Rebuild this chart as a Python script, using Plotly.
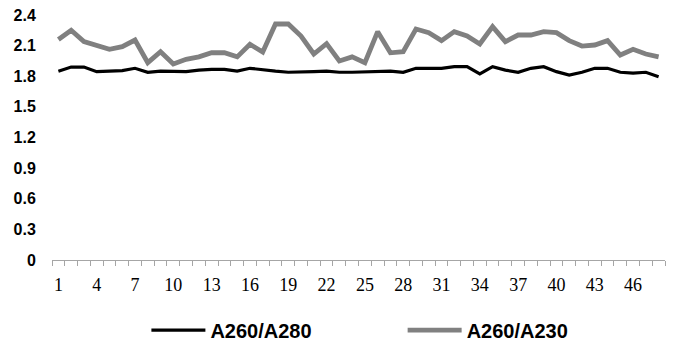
import plotly.graph_objects as go

samples = list(range(1, 49))
a260_280 = [1.85, 1.89, 1.89, 1.845, 1.85, 1.855, 1.878, 1.839, 1.85, 1.85,
            1.845, 1.86, 1.868, 1.868, 1.85, 1.878, 1.86, 1.85, 1.839, 1.839,
            1.845, 1.85, 1.839, 1.839, 1.845, 1.85, 1.85, 1.839, 1.878, 1.878,
            1.878, 1.894, 1.894, 1.822, 1.894, 1.86, 1.839, 1.878, 1.894, 1.845,
            1.812, 1.839, 1.878, 1.878, 1.839, 1.83, 1.839, 1.796]
a260_230 = [2.16, 2.25, 2.14, 2.096, 2.064, 2.09, 2.155, 1.933, 2.04, 1.92,
            1.966, 1.99, 2.03, 2.03, 1.99, 2.113, 2.037, 2.312, 2.312, 2.194,
            2.018, 2.12, 1.95, 1.99, 1.933, 2.237, 2.03, 2.04, 2.263, 2.227,
            2.149, 2.237, 2.194, 2.116, 2.286, 2.139, 2.204, 2.204, 2.237, 2.227,
            2.149, 2.096, 2.106, 2.149, 2.008, 2.064, 2.018, 1.99]
x_tick_vals = [1, 4, 7, 10, 13, 16, 19, 22, 25, 28, 31, 34, 37, 40, 43, 46]
y_tick_vals = [0, 0.3, 0.6, 0.9, 1.2, 1.5, 1.8, 2.1, 2.4]
y_tick_text = ["0", "0.3", "0.6", "0.9", "1.2", "1.5", "1.8", "2.1", "2.4"]

fig = go.Figure()
fig.add_trace(go.Scatter(x=samples, y=a260_280, mode="lines", name="A260/A280",
                         line=dict(color="#000000", width=3.2), legend="legend"))
fig.add_trace(go.Scatter(x=samples, y=a260_230, mode="lines", name="A260/A230",
                         line=dict(color="#808080", width=4.8), legend="legend2"))

legend_font = dict(family="Liberation Sans", size=20, color="#000000", weight="bold")
fig.update_layout(
    width=667, height=337,
    margin=dict(l=44, r=10, t=7, b=85, autoexpand=False),
    paper_bgcolor="white", plot_bgcolor="white",
    showlegend=True,
    legend=dict(orientation="h", x=0.154, xanchor="left", y=-0.286, yanchor="middle",
                font=legend_font, itemwidth=54, bgcolor="rgba(0,0,0,0)"),
    legend2=dict(orientation="h", x=0.572, xanchor="left", y=-0.286, yanchor="middle",
                 font=legend_font, itemwidth=54, bgcolor="rgba(0,0,0,0)"),
    xaxis=dict(range=[0.5, 48.5], tickmode="array", tickvals=x_tick_vals,
               ticks="outside", ticklen=8, tickcolor="rgba(0,0,0,0)",
               tickfont=dict(family="Liberation Serif", size=18, color="#000000"),
               showgrid=False, zeroline=False,
               showline=True, linecolor="#a6a6a6", linewidth=1,
               minor=dict(ticks="outside", tick0=0.5, dtick=1, ticklen=5,
                          tickcolor="#a6a6a6", showgrid=False)),
    yaxis=dict(range=[0, 2.4], tickmode="array", tickvals=y_tick_vals, ticktext=y_tick_text,
               ticks="outside", ticklen=12, tickcolor="rgba(0,0,0,0)",
               ticklabeloverflow="allow",
               tickfont=dict(family="Liberation Sans", size=16, color="#000000", weight="bold"),
               showgrid=False, zeroline=False, showline=False),
)

fig.write_html("out.html")
